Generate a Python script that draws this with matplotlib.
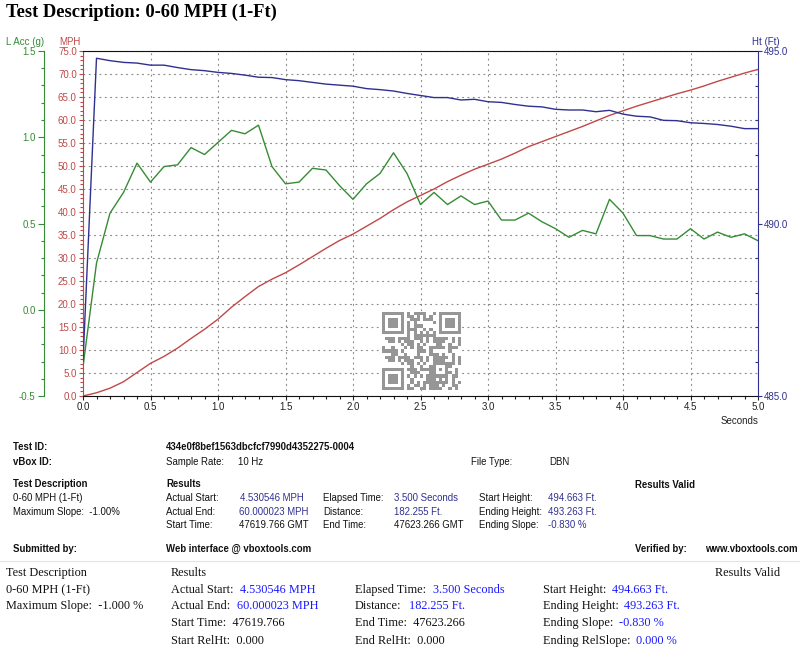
import matplotlib
matplotlib.use('Agg')
import matplotlib.pyplot as plt
from matplotlib.ticker import MultipleLocator, FormatStrFormatter
import numpy as np

# Data (10 Hz samples)
time_s = [0.0, 0.1, 0.2, 0.3, 0.4, 0.5, 0.6, 0.7, 0.8, 0.9,
          1.0, 1.1, 1.2, 1.3, 1.4, 1.5, 1.6, 1.7, 1.8, 1.9,
          2.0, 2.1, 2.2, 2.3, 2.4, 2.5, 2.6, 2.7, 2.8, 2.9,
          3.0, 3.1, 3.2, 3.3, 3.4, 3.5, 3.6, 3.7, 3.8, 3.9,
          4.0, 4.1, 4.2, 4.3, 4.4, 4.5, 4.6, 4.7, 4.8, 4.9, 5.0]

speed_mph = [0.0, 0.7, 1.7, 3.1, 5.1, 7.1, 8.6, 10.4, 12.5, 14.5,
             16.7, 19.3, 21.6, 23.8, 25.4, 26.8, 28.5, 30.3, 32.1, 33.8,
             35.2, 36.9, 38.6, 40.5, 42.2, 43.6, 45.0, 46.6, 48.0, 49.3,
             50.4, 51.5, 52.8, 54.2, 55.3, 56.4, 57.5, 58.6, 59.8, 61.0,
             62.0, 63.0, 63.9, 64.8, 65.7, 66.5, 67.4, 68.4, 69.3, 70.2, 71.0]

lat_acc_g = [-0.33, 0.27, 0.56, 0.68, 0.85, 0.74, 0.83, 0.84, 0.94, 0.90,
             0.97, 1.04, 1.02, 1.07, 0.83, 0.73, 0.74, 0.82, 0.81, 0.72,
             0.64, 0.73, 0.79, 0.91, 0.79, 0.61, 0.68, 0.61, 0.66, 0.61,
             0.63, 0.52, 0.52, 0.56, 0.51, 0.47, 0.42, 0.46, 0.44, 0.64,
             0.56, 0.43, 0.43, 0.41, 0.41, 0.47, 0.41, 0.45, 0.42, 0.44, 0.40]

height_ft = [486.0, 494.79, 494.72, 494.67, 494.65, 494.59, 494.59, 494.52, 494.46, 494.43,
             494.38, 494.35, 494.30, 494.24, 494.23, 494.17, 494.14, 494.09, 494.04, 494.01,
             493.98, 493.91, 493.88, 493.84, 493.77, 493.71, 493.65, 493.65, 493.58, 493.60,
             493.53, 493.51, 493.45, 493.40, 493.38, 493.31, 493.29, 493.29, 493.24, 493.28,
             493.17, 493.11, 493.09, 492.99, 492.98, 492.92, 492.90, 492.87, 492.82, 492.75, 492.75]

test_id = "434e0f8bef1563dbcfcf7990d4352275-0004"

# colours
red = '#c04848'
green = '#358c35'
blue = '#303090'
txt_blue = '#303090'
serif_blue = '#1a1aff'

W, H = 800, 656
fig = plt.figure(figsize=(W / 100, H / 100), dpi=100)
fig.patch.set_facecolor('white')

sans = 'Liberation Sans'
serif = 'Liberation Serif'
tick_fs = 7

# main axes (MPH)
ax = fig.add_axes([83 / W, 1 - 396 / H, 675 / W, 345 / H])
ax.plot(time_s, speed_mph, color=red, lw=1.0)
ax.set_xlim(0, 5)
ax.set_ylim(0, 75)
ax.xaxis.set_major_locator(MultipleLocator(0.5))
ax.xaxis.set_minor_locator(MultipleLocator(0.1))
ax.yaxis.set_major_locator(MultipleLocator(5))
ax.yaxis.set_minor_locator(MultipleLocator(1))
ax.xaxis.set_major_formatter(FormatStrFormatter('%.1f'))
ax.yaxis.set_major_formatter(FormatStrFormatter('%.1f'))
ax.grid(True, which='major', color='#888888', lw=0.8, linestyle=(0, (1.6, 3.2)))
ax.tick_params(axis='x', which='major', length=3, width=0.8, pad=1.5, labelsize=tick_fs, colors='#222222')
ax.tick_params(axis='x', which='minor', length=2.5, width=0.8, colors='#222222')
ax.tick_params(axis='y', which='major', length=3, width=0.8, pad=1.5, labelsize=tick_fs, colors=red)
ax.tick_params(axis='y', which='minor', length=2, width=0.8, colors=red)
for lab in ax.get_xticklabels() + ax.get_yticklabels():
    lab.set_fontfamily(sans)
ax.spines['left'].set_color(red)
ax.spines['right'].set_visible(False)
ax.spines['top'].set_color('#111111')
ax.spines['bottom'].set_color('#111111')

# lateral acceleration axis (outer left)
ax_g = ax.twinx()
ax_g.plot(time_s, lat_acc_g, color=green, lw=1.0)
ax_g.set_ylim(-0.5, 1.5)
ax_g.spines['left'].set_position(('axes', -39 / 675))
ax_g.spines['left'].set_visible(True)
ax_g.spines['left'].set_color(green)
for s in ['right', 'top', 'bottom']:
    ax_g.spines[s].set_visible(False)
ax_g.yaxis.set_ticks_position('left')
ax_g.yaxis.set_major_locator(MultipleLocator(0.5))
ax_g.yaxis.set_minor_locator(MultipleLocator(0.1))
ax_g.yaxis.set_major_formatter(FormatStrFormatter('%.1f'))
ax_g.tick_params(axis='y', which='major', length=4, width=0.8, pad=2, labelsize=tick_fs, colors=green)
ax_g.tick_params(axis='y', which='minor', length=2, width=0.8, colors=green)
for lab in ax_g.get_yticklabels():
    lab.set_fontfamily(sans)

# height axis (right)
ax_h = ax.twinx()
ax_h.plot(time_s, height_ft, color=blue, lw=1.0)
ax_h.set_ylim(485, 495)
for s in ['left', 'top', 'bottom']:
    ax_h.spines[s].set_visible(False)
ax_h.spines['right'].set_color(blue)
ax_h.yaxis.set_major_locator(MultipleLocator(5))
ax_h.yaxis.set_minor_locator(MultipleLocator(1))
ax_h.yaxis.set_major_formatter(FormatStrFormatter('%.1f'))
ax_h.tick_params(axis='y', which='major', direction='out', length=3, width=0.8, pad=1, labelsize=tick_fs, colors=blue)
ax_h.tick_params(axis='y', which='minor', direction='in', length=2.5, width=0.8, colors=blue)
for lab in ax_h.get_yticklabels():
    lab.set_fontfamily(sans)


def px(x, y, s, **kw):
    kw.setdefault('va', 'center')
    kw.setdefault('ha', 'left')
    fig.text(x / W, 1 - y / H, s, **kw)


# axis captions
px(6, 42, 'L Acc (g)', color=green, fontsize=tick_fs, family=sans)
px(59, 42, 'MPH', color=red, fontsize=tick_fs, family=sans)
px(752, 42, 'Ht (Ft)', color=blue, fontsize=tick_fs, family=sans)
px(758, 421, 'Seconds', color='#222222', fontsize=tick_fs, family=sans, ha='right')

# QR-like stamp in the plot
n = 25
qr = np.zeros((n, n), dtype=int)
reserved = np.zeros((n, n), dtype=bool)


def finder(r, c):
    for i in range(-1, 8):
        for j in range(-1, 8):
            rr, cc = r + i, c + j
            if 0 <= rr < n and 0 <= cc < n:
                reserved[rr, cc] = True
                if 0 <= i <= 6 and 0 <= j <= 6:
                    ring = max(abs(i - 3), abs(j - 3))
                    qr[rr, cc] = 1 if ring in (3, 1, 0) else 0


finder(0, 0)
finder(0, n - 7)
finder(n - 7, 0)
for k in range(8, n - 8):
    qr[6, k] = qr[k, 6] = 1 if k % 2 == 0 else 0
    reserved[6, k] = reserved[k, 6] = True
for i in range(-2, 3):
    for j in range(-2, 3):
        ring = max(abs(i), abs(j))
        qr[18 + i, 18 + j] = 1 if ring in (2, 0) else 0
        reserved[18 + i, 18 + j] = True
bits = ''.join(format(int(ch, 16), '04b') for ch in test_id if ch != '-')
k = 0
for i in range(n):
    for j in range(n):
        if not reserved[i, j]:
            b = int(bits[k % len(bits)])
            qr[i, j] = b ^ ((i * j) % 3 == 0)
            k += 1

ax_qr = fig.add_axes([381.7 / W, 1 - 390 / H, 78.3 / W, 78 / H])
ax_qr.imshow(qr, cmap=matplotlib.colors.ListedColormap(['white', '#969696']),
             interpolation='nearest', aspect='auto')
ax_qr.axis('off')

# title
px(6, 12, 'Test Description: 0-60 MPH (1-Ft)', fontsize=13.3, family=serif, weight='bold')

# info block (sans)
fs = 6.9
bold = dict(fontsize=fs, family=sans, weight='bold', color='#111111')
norm = dict(fontsize=fs, family=sans, color='#111111')
val = dict(fontsize=fs, family=sans, color=txt_blue)

px(13, 447, 'Test ID:', **bold)
px(166, 447, test_id, **bold)
px(13, 462, 'vBox ID:', **bold)
px(166, 462, 'Sample Rate:', **norm)
px(238, 462, '10 Hz', **norm)
px(471, 462, 'File Type:', **norm)
px(549, 462, 'DBN', **norm)

px(13, 484, 'Test Description', **bold)
px(166, 484, 'Results', **bold)
px(635, 485, 'Results Valid', **bold)
px(13, 498, '0-60 MPH (1-Ft)', **norm)
px(13, 512, 'Maximum Slope:  -1.00%', **norm)

px(166, 498, 'Actual Start:', **norm)
px(240, 498, '4.530546 MPH', **val)
px(323, 498, 'Elapsed Time:', **norm)
px(394, 498, '3.500 Seconds', **val)
px(479, 498, 'Start Height:', **norm)
px(548, 498, '494.663 Ft.', **val)

px(166, 512, 'Actual End:', **norm)
px(239, 512, '60.000023 MPH', **val)
px(323, 512, 'Distance:', **norm)
px(394, 512, '182.255 Ft.', **val)
px(479, 512, 'Ending Height:', **norm)
px(548, 512, '493.263 Ft.', **val)

px(166, 525, 'Start Time:', **norm)
px(239, 525, '47619.766 GMT', **norm)
px(323, 525, 'End Time:', **norm)
px(394, 525, '47623.266 GMT', **norm)
px(479, 525, 'Ending Slope:', **norm)
px(548, 525, '-0.830 %', **val)

px(13, 549, 'Submitted by:', **bold)
px(166, 549, 'Web interface @ vboxtools.com', **bold)
px(635, 549, 'Verified by:', **bold)
px(705, 549, 'www.vboxtools.com', **bold)

fig.add_artist(plt.Line2D([0, 1], [1 - 561 / H, 1 - 561 / H], color='#e4e4e4', lw=0.8))

# info block (serif)
sfs = 8.8
st = dict(fontsize=sfs, family=serif, color='#111111')
sv = dict(fontsize=sfs, family=serif, color=serif_blue)

px(6, 573, 'Test Description', **st)
px(171, 573, 'Results', **st)
px(715, 573, 'Results Valid', **st)
px(6, 590, '0-60 MPH (1-Ft)', **st)
px(6, 606, 'Maximum Slope:  -1.000 %', **st)

px(171, 590, 'Actual Start:', **st)
px(240, 590, '4.530546 MPH', **sv)
px(171, 606, 'Actual End:', **st)
px(237, 606, '60.000023 MPH', **sv)
px(171, 623, 'Start Time:  47619.766', **st)
px(171, 641, 'Start RelHt:  0.000', **st)

px(355, 590, 'Elapsed Time:', **st)
px(433, 590, '3.500 Seconds', **sv)
px(355, 606, 'Distance:', **st)
px(409, 606, '182.255 Ft.', **sv)
px(355, 623, 'End Time:  47623.266', **st)
px(355, 641, 'End RelHt:  0.000', **st)

px(543, 590, 'Start Height:', **st)
px(612, 590, '494.663 Ft.', **sv)
px(543, 606, 'Ending Height:', **st)
px(624, 606, '493.263 Ft.', **sv)
px(543, 623, 'Ending Slope:', **st)
px(619, 623, '-0.830 %', **sv)
px(543, 641, 'Ending RelSlope:', **st)
px(636, 641, '0.000 %', **sv)

fig.savefig('out.png', dpi=100, facecolor='white')
